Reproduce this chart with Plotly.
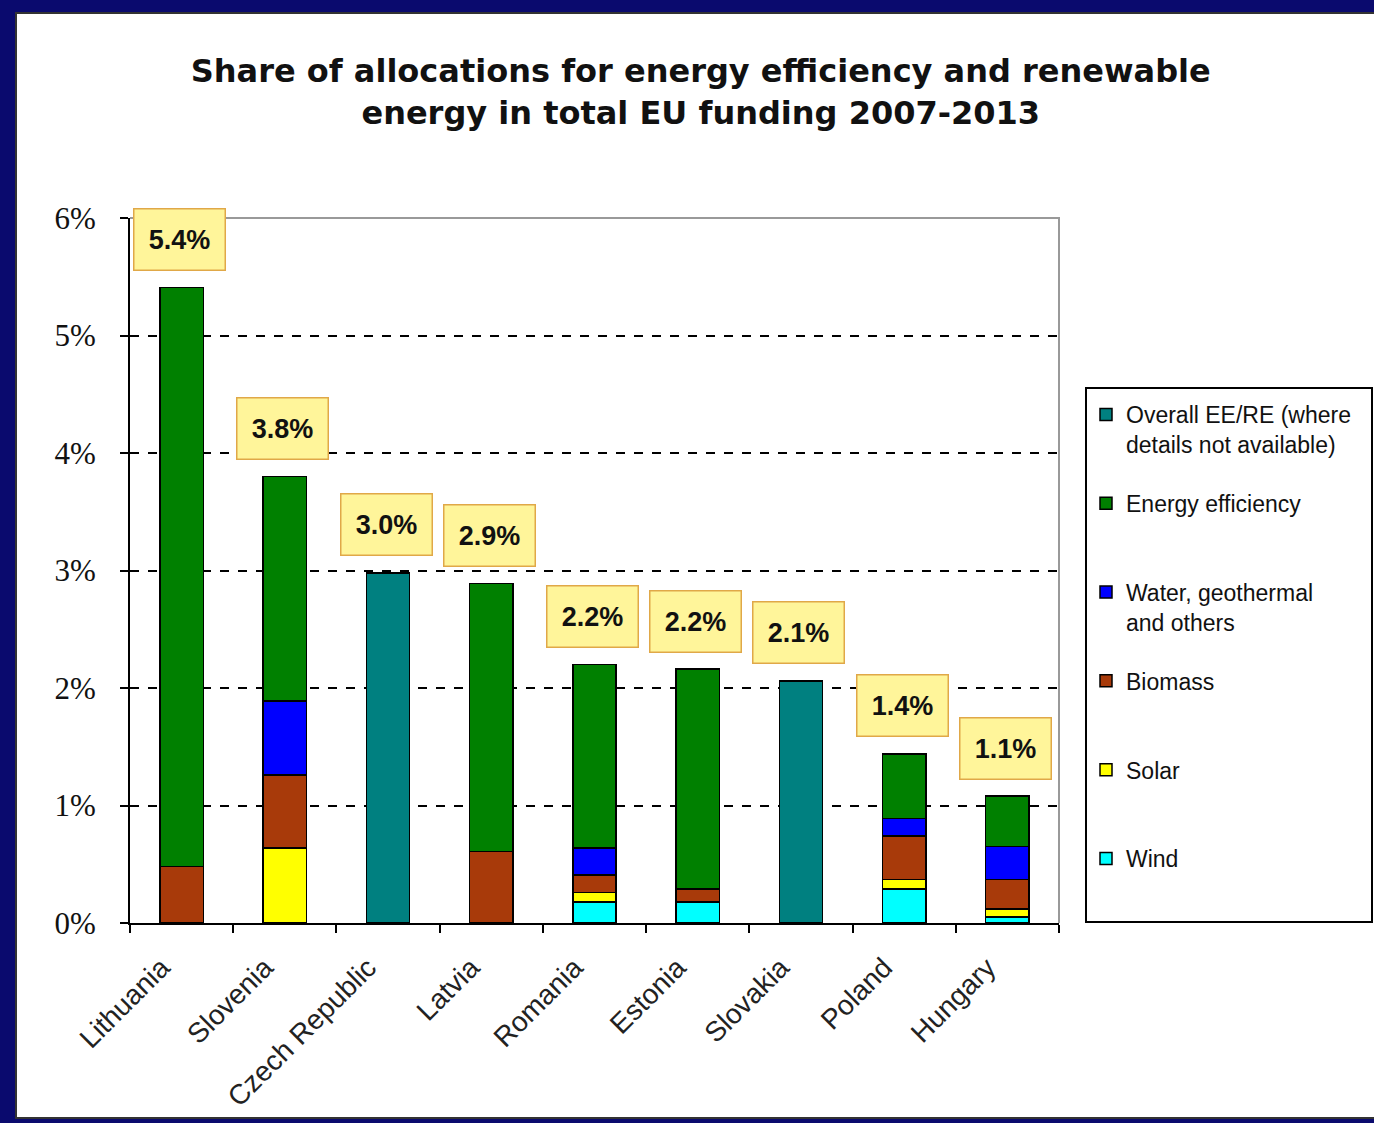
import plotly.graph_objects as go

countries = ["Lithuania", "Slovenia", "Czech Republic", "Latvia", "Romania",
             "Estonia", "Slovakia", "Poland", "Hungary"]
wind    = [0.00, 0.00, 0.00, 0.00, 0.18, 0.18, 0.00, 0.29, 0.05]
solar   = [0.00, 0.64, 0.00, 0.00, 0.08, 0.00, 0.00, 0.08, 0.07]
biomass = [0.48, 0.62, 0.00, 0.61, 0.15, 0.11, 0.00, 0.37, 0.25]
water   = [0.00, 0.63, 0.00, 0.00, 0.23, 0.00, 0.00, 0.15, 0.28]
ee      = [4.93, 1.91, 0.00, 2.28, 1.56, 1.87, 0.00, 0.55, 0.43]
overall = [0.00, 0.00, 2.98, 0.00, 0.00, 0.00, 2.06, 0.00, 0.00]
total_labels = ["5.4%", "3.8%", "3.0%", "2.9%", "2.2%", "2.2%", "2.1%", "1.4%", "1.1%"]
y_ticks = [0, 1, 2, 3, 4, 5, 6]
y_tick_text = ["0%", "1%", "2%", "3%", "4%", "5%", "6%"]

series = [
    ("Wind<br> ", wind, "#00FFFF"),
    ("Solar<br> ", solar, "#FFFF00"),
    ("Biomass<br> ", biomass, "#A83A0A"),
    ("Water, geothermal<br>and others", water, "#0000FF"),
    ("Energy efficiency<br> ", ee, "#008000"),
    ("Overall EE/RE (where<br>details not available)", overall, "#008080"),
]

fig = go.Figure()
n = len(series)
for i, (name, vals, col) in enumerate(series):
    fig.add_trace(go.Bar(
        x=countries, y=vals, name=name, legendgroup=str(i),
        legendrank=100 * (n - i),
        marker=dict(color=col, line=dict(color="black", width=1.5)),
    ))

totals = [round(sum(v), 2) for v in zip(wind, solar, biomass, water, ee, overall)]
for c, t, lab in zip(countries, totals, total_labels):
    fig.add_annotation(
        x=c, y=t, text="<b>" + lab + "</b>", showarrow=False,
        yshift=48, xshift=-2, width=88, height=58,
        bgcolor="#FFF59A", bordercolor="#E0A848", borderwidth=1.5,
        font=dict(family="Liberation Sans", size=27, color="#111111"),
    )

W, H = 1374, 1123
L, R, T, B = 130, 315, 218, 200
pw, ph = W - L - R, H - T - B

def px(xp):
    return (xp - L) / pw

def py(yp):
    return (H - B - yp) / ph

shapes = [
    dict(type="rect", xref="paper", yref="paper", layer="below",
         x0=px(16), x1=px(1400), y0=py(1118), y1=py(13),
         fillcolor="white", line=dict(color="#333333", width=2)),
    dict(type="rect", xref="paper", yref="paper", layer="below",
         x0=px(1086), x1=px(1372), y0=py(922), y1=py(388),
         fillcolor="white", line=dict(color="black", width=2)),
    dict(type="path", xref="paper", yref="paper", layer="above",
         path="M 0,1 L 1,1 L 1,0", line=dict(color="#999999", width=2)),
]

fig.update_layout(
    width=W, height=H,
    margin=dict(l=L, r=R, t=T, b=B, autoexpand=False),
    paper_bgcolor="#0A0A6E",
    plot_bgcolor="white",
    barmode="stack",
    bargap=0.58,
    shapes=shapes,
    title=dict(
        text="<b>Share of allocations for energy efficiency and renewable<br>energy in total EU funding 2007-2013</b>",
        x=0.51, xref="container", y=1 - 82 / H, yanchor="middle",
        font=dict(family="DejaVu Sans", size=32, color="#111111"),
    ),
    xaxis=dict(
        type="category", tickangle=-45, tickson="boundaries",
        ticks="outside", ticklen=8, tickcolor="black", tickwidth=1.5,
        showline=True, linecolor="black", linewidth=2,
        showgrid=False, ticklabelstandoff=15, ticklabelshift=-20,
        tickfont=dict(family="Liberation Sans", size=28, color="#222222"),
    ),
    yaxis=dict(
        range=[0, 6], tickvals=y_ticks, ticktext=y_tick_text,
        ticks="outside", ticklen=8, tickcolor="black", tickwidth=1.5,
        showline=True, linecolor="black", linewidth=2,
        showgrid=True, gridcolor="black", gridwidth=2, griddash="dash",
        zeroline=False, ticklabelstandoff=18,
        tickfont=dict(family="Liberation Serif", size=31, color="#111111"),
    ),
    legend=dict(
        x=px(1086), xanchor="left", y=py(393), yanchor="top",
        traceorder="grouped", tracegroupgap=26,
        valign="top", bgcolor="rgba(0,0,0,0)",
        font=dict(family="Liberation Sans", size=23, color="#111111"),
        itemwidth=30,
    ),
)

fig.write_html("out.html", config={"displayModeBar": False},
               post_script="document.body.style.margin='0';document.body.style.overflow='hidden';")
